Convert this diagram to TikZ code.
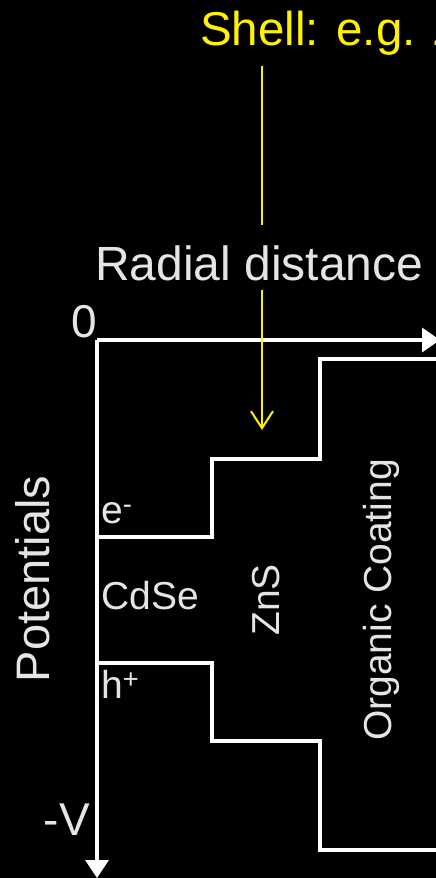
\documentclass[tikz,border=0pt]{standalone}
\usepackage{fontspec}
\setmainfont{Liberation Sans}
\usetikzlibrary{arrows.meta}
\begin{document}
\begin{tikzpicture}[x=1pt,y=-1pt,
  lbl/.style={text=white!90!black, inner sep=0pt, font=\fontsize{39}{40}\selectfont},
  biglbl/.style={text=white!90!black, inner sep=0pt, font=\fontsize{48}{49}\selectfont},
  axisline/.style={draw=white, line width=3.5pt},
  level/.style={draw=white, line width=4pt, line join=miter},
  shellarrow/.style={draw=yellow, line width=2pt}]
\fill[black] (0,0) rectangle (436,878);
\useasboundingbox (0,0) rectangle (436,878);
\clip (0,0) rectangle (436,878);
% axes
\coordinate (o) at (97,340);
\coordinate (xend) at (440,340);
\coordinate (yend) at (97,878);
\draw[axisline, -{Triangle[length=18pt,width=24pt]}] (o) -- (xend);
\draw[axisline, -{Triangle[length=18pt,width=23pt]}] (o) -- (yend);
% electron level
\coordinate (e0) at (97,537);
\coordinate (e1) at (212,537);
\coordinate (e2) at (212,459);
\coordinate (e3) at (320,459);
\coordinate (e4) at (320,359);
\coordinate (e5) at (440,359);
\draw[level] (e0) -- (e1) -- (e2) -- (e3) -- (e4) -- (e5);
% hole level
\coordinate (h0) at (97,663);
\coordinate (h1) at (212,663);
\coordinate (h2) at (212,741);
\coordinate (h3) at (320,741);
\coordinate (h4) at (320,850);
\coordinate (h5) at (440,850);
\draw[level] (h0) -- (h1) -- (h2) -- (h3) -- (h4) -- (h5);
% texts
\node[text=yellow, inner sep=0pt, font=\fontsize{47.5}{48}\selectfont, anchor=base west] (shell) at (200,45) {Shell: e.g. ZnS};
\node[biglbl, anchor=base west] (radial) at (95,280) {Radial distance};
\node[text=white!90!black, inner sep=0pt, font=\fontsize{46}{47}\selectfont, anchor=base east] (zero) at (97,337) {0};
\node[text=white!90!black, inner sep=0pt, font=\fontsize{46}{47}\selectfont, anchor=base east] (negv) at (90,835) {-V};
\node[text=white!90!black, inner sep=0pt, font=\fontsize{47}{48}\selectfont, rotate=90] (pot) at (33,579) {Potentials};
\node[lbl, anchor=base west] (el) at (101,523) {e\textsuperscript{-}};
\node[lbl, anchor=base west] (cdse) at (101,609) {CdSe};
\node[lbl, anchor=base west] (ho) at (101,698) {h\textsuperscript{+}};
\node[lbl, rotate=90] (zns) at (266,600) {ZnS};
\node[lbl, rotate=90] (org) at (381,600) {Organic Coating};
% yellow arrow
\coordinate (ya) at (262,66);
\coordinate (yb) at (262,225);
\coordinate (yc) at (262,290);
\coordinate (yd) at (262,430);
\draw[shellarrow] (ya) -- (yb);
\draw[shellarrow, -{Straight Barb[length=17pt,width=22pt]}] (yc) -- (yd);
\end{tikzpicture}
\end{document}
